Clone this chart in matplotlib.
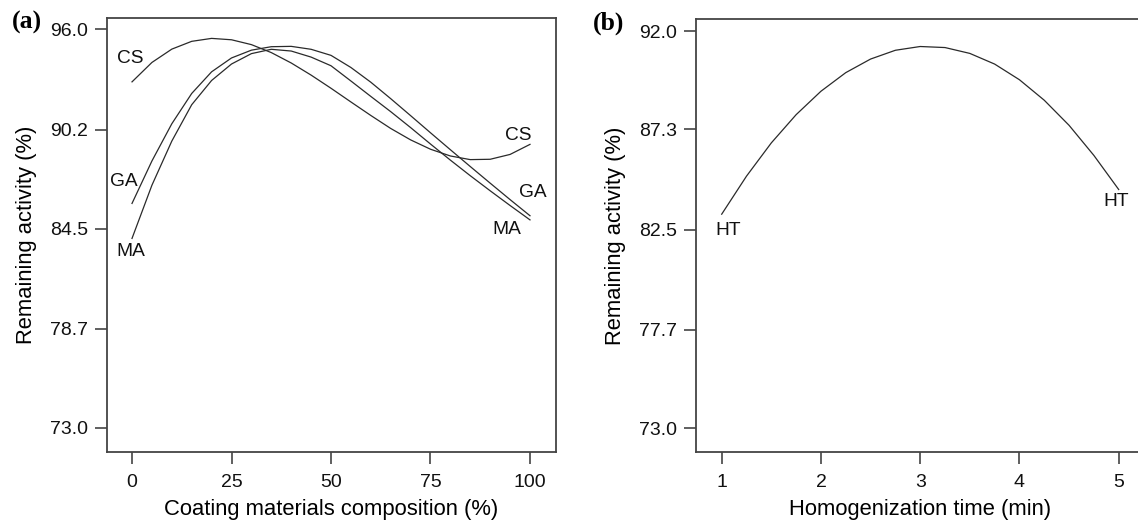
import matplotlib
matplotlib.use("Agg")
import matplotlib.pyplot as plt

plt.rcParams['font.family'] = ['Liberation Sans', 'DejaVu Sans']

# ---------------- data ----------------
comp = [0, 5, 10, 15, 20, 25, 30, 35, 40, 45, 50, 55, 60, 65, 70, 75, 80, 85, 90, 95, 100]
cs = [92.97, 94.09, 94.86, 95.31, 95.48, 95.40, 95.12, 94.66, 94.06, 93.36, 92.60,
      91.81, 91.03, 90.28, 89.62, 89.08, 88.69, 88.48, 88.50, 88.78, 89.36]
ga = [85.95, 88.40, 90.55, 92.30, 93.55, 94.35, 94.80, 95.00, 95.02, 94.85, 94.50,
      93.80, 92.95, 92.00, 91.02, 90.03, 89.05, 88.08, 87.12, 86.17, 85.24]
ma = [83.93, 87.00, 89.55, 91.65, 93.05, 94.00, 94.60, 94.85, 94.75, 94.40, 93.90,
      93.02, 92.13, 91.25, 90.33, 89.38, 88.45, 87.55, 86.68, 85.83, 85.00]

htime = [1.00, 1.25, 1.50, 1.75, 2.00, 2.25, 2.50, 2.75, 3.00, 3.25, 3.50, 3.75,
         4.00, 4.25, 4.50, 4.75, 5.00]
ht = [83.24, 85.06, 86.65, 88.00, 89.12, 90.01, 90.66, 91.08, 91.26, 91.21, 90.93,
      90.42, 89.67, 88.69, 87.49, 86.05, 84.42]

xticks_a = [0, 25, 50, 75, 100]
yticks_a = [73.0, 78.7, 84.5, 90.2, 96.0]
xticks_b = [1, 2, 3, 4, 5]
yticks_b = [73.0, 77.7, 82.5, 87.3, 92.0]

# ---------------- figure ----------------
W, H = 1138, 528
fig = plt.figure(figsize=(W / 100, H / 100), dpi=100)

line_kw = dict(color='#2a2a2a', lw=0.9, solid_joinstyle='round')
spine_c = '#444444'
tick_fs = 14
lab_fs = 15.8
ann_fs = 13.8


def style(ax):
    for s in ax.spines.values():
        s.set_color(spine_c)
        s.set_linewidth(1.3)
    ax.tick_params(axis='both', direction='out', length=8.5, width=1.2,
                   color=spine_c, labelsize=tick_fs, labelcolor='#111111')
    ax.tick_params(axis='x', pad=7)
    ax.tick_params(axis='y', pad=5)


# panel (a)
axa = fig.add_axes([106.7 / W, 1 - 452.3 / H, (555.7 - 106.7) / W, (452.3 - 18.3) / H])
axa.plot(comp, cs, **line_kw)
axa.plot(comp, ga, **line_kw)
axa.plot(comp, ma, **line_kw)
axa.set_xlim(-6.36, 106.46)
axa.set_ylim(71.58, 96.64)
axa.set_xticks(xticks_a)
axa.set_xticklabels([str(v) for v in xticks_a])
axa.set_yticks(yticks_a)
axa.set_yticklabels([f"{v:.1f}" for v in yticks_a])
style(axa)
axa.set_xlabel("Coating materials composition (%)", fontsize=lab_fs, labelpad=6)
axa.set_ylabel("Remaining activity (%)", fontsize=lab_fs, labelpad=9)
for txt, x, y in [("CS", -0.4, 94.29), ("GA", -2.0, 87.19), ("MA", -0.2, 83.15),
                  ("CS", 97.1, 89.87), ("GA", 100.7, 86.59), ("MA", 94.2, 84.43)]:
    axa.text(x, y, txt, fontsize=ann_fs, ha='center', va='center', color='#111111')

# panel (b)
axb = fig.add_axes([695.7 / W, 1 - 452.3 / H, (1144.7 - 695.7) / W, (452.3 - 18.7) / H])
axb.plot(htime, ht, **line_kw)
axb.set_xlim(0.738, 5.262)
axb.set_ylim(71.85, 92.59)
axb.set_xticks(xticks_b)
axb.set_xticklabels([str(v) for v in xticks_b])
axb.set_yticks(yticks_b)
axb.set_yticklabels([f"{v:.1f}" for v in yticks_b])
style(axb)
axb.set_xlabel("Homogenization time (min)", fontsize=lab_fs, labelpad=6)
axb.set_ylabel("Remaining activity (%)", fontsize=lab_fs, labelpad=9)
for txt, x, y in [("HT", 1.07, 82.47), ("HT", 4.97, 83.85)]:
    axb.text(x, y, txt, fontsize=ann_fs, ha='center', va='center', color='#111111')

# panel letters
fig.text(27 / W, 1 - 22 / H, "(a)", fontsize=18.5, fontweight='bold',
         family=['Liberation Serif', 'DejaVu Serif'], ha='center', va='center')
fig.text(609 / W, 1 - 23 / H, "(b)", fontsize=18.5, fontweight='bold',
         family=['Liberation Serif', 'DejaVu Serif'], ha='center', va='center')

fig.savefig("out.png", dpi=100)
